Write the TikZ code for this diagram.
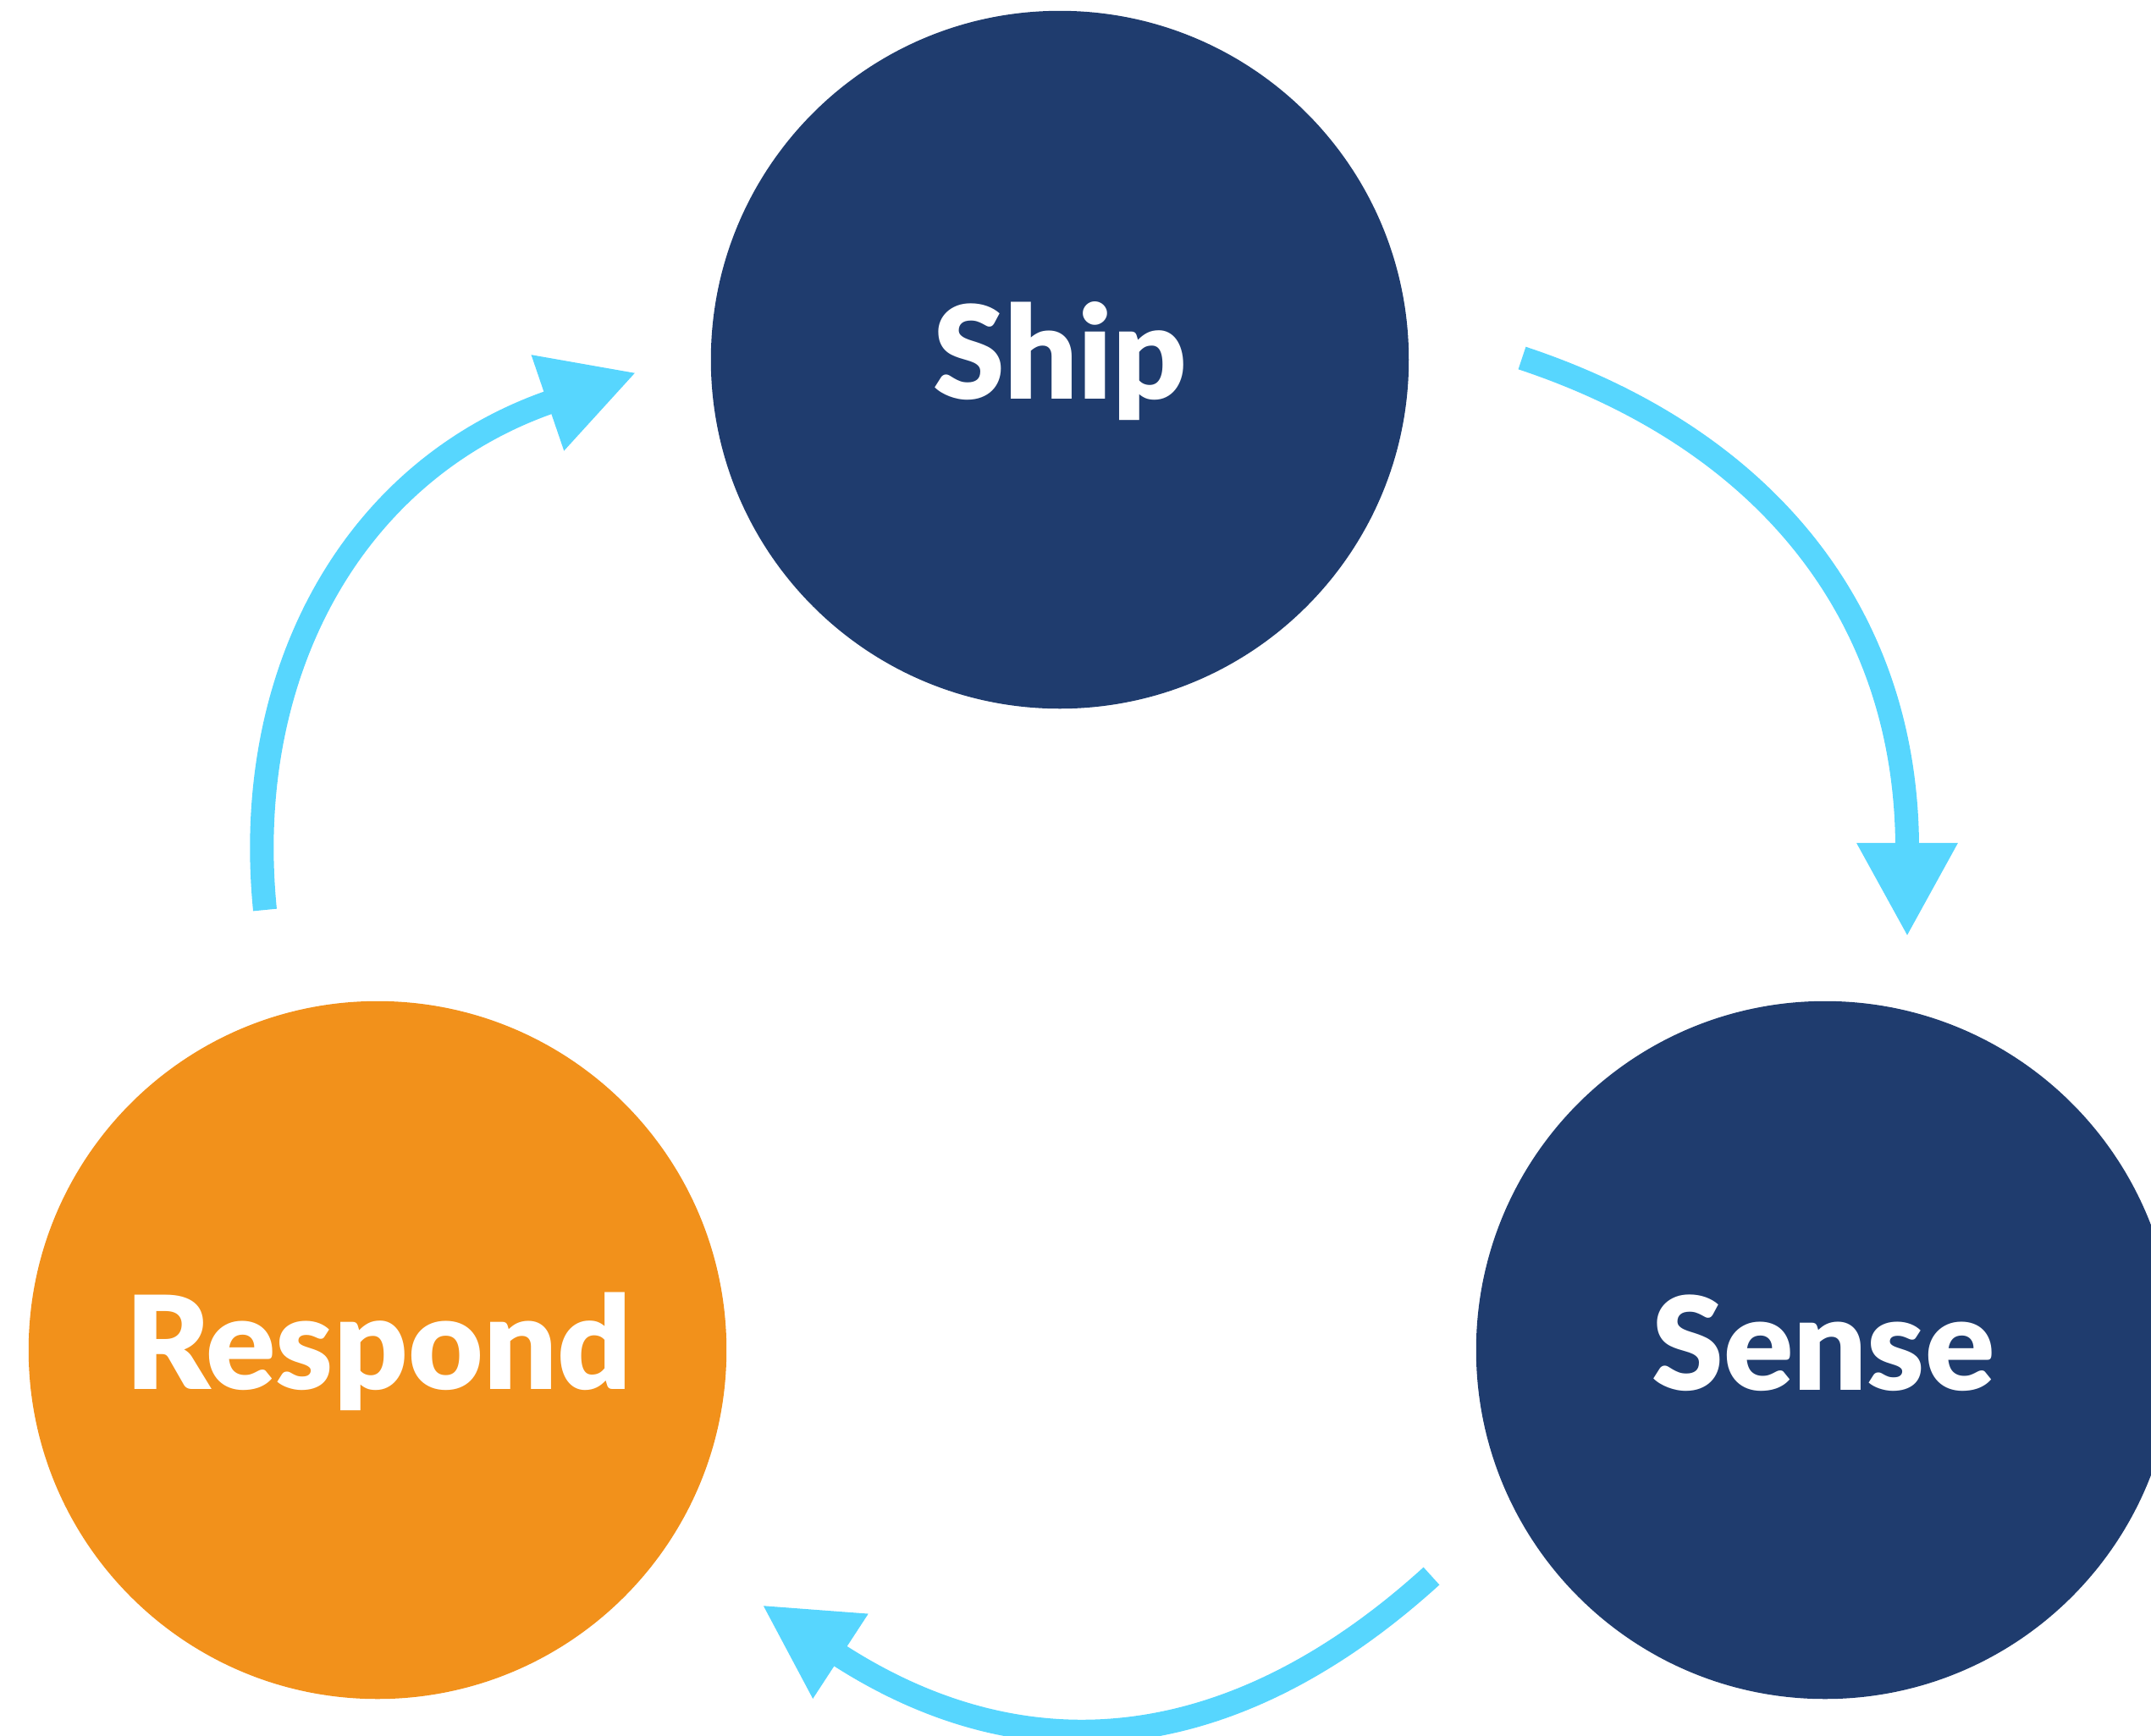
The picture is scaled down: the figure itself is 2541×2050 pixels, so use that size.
\documentclass[tikz,border=0pt]{standalone}
\usepackage{fontspec}
\setmainfont{Lato}
\newfontfamily\phasefont{Lato Black}
\usetikzlibrary{arrows.meta}
\definecolor{shipblue}{RGB}{31,60,110}
\definecolor{respondorange}{RGB}{242,145,27}
\definecolor{loopcyan}{RGB}{87,214,254}
\tikzset{
    phase/.style={circle, inner sep=0pt, minimum size=8.24cm},
    phasetext/.style={anchor=base, inner sep=0pt, text=white, font=\fontsize{43.5}{50}\selectfont\phasefont},
    loop/.style={color=loopcyan, line width=0.28cm, -{Triangle[length=1.11cm, width=1.11cm]}}
}
\begin{document}
\begin{tikzpicture}[x=0.01cm, y=-0.01cm]
    \useasboundingbox (0,0) rectangle (2541,2050);
    \clip (0,0) rectangle (2541,2050);

    \node[phase, fill=shipblue] (ship) at (1252,425) {};
    \node[phase, fill=shipblue] (sense) at (2156,1595) {};
    \node[phase, fill=respondorange] (respond) at (446,1595) {};

    \node[phasetext] (shiplabel) at (1252,471) {Ship};
    \node[phasetext] (senselabel) at (2154,1642) {Sense};
    \node[phasetext] (respondlabel) at (447,1641) {Respond};

    \coordinate (shipout) at (1798,423);
    \coordinate (sensein) at (2253,1107);
    \coordinate (senseout) at (1691,1862);
    \coordinate (respondin) at (900,1896);
    \coordinate (respondout) at (313,1075);
    \coordinate (shipin) at (752,440);

    \draw[loop] (shipout) .. controls (2090,520) and (2253,730) .. (sensein);
    \draw[loop] (senseout) .. controls (1462,2070) and (1217,2103) .. (respondin);
    \draw[loop] (respondout) .. controls (285,794) and (418,554) .. (shipin);
\end{tikzpicture}
\end{document}
